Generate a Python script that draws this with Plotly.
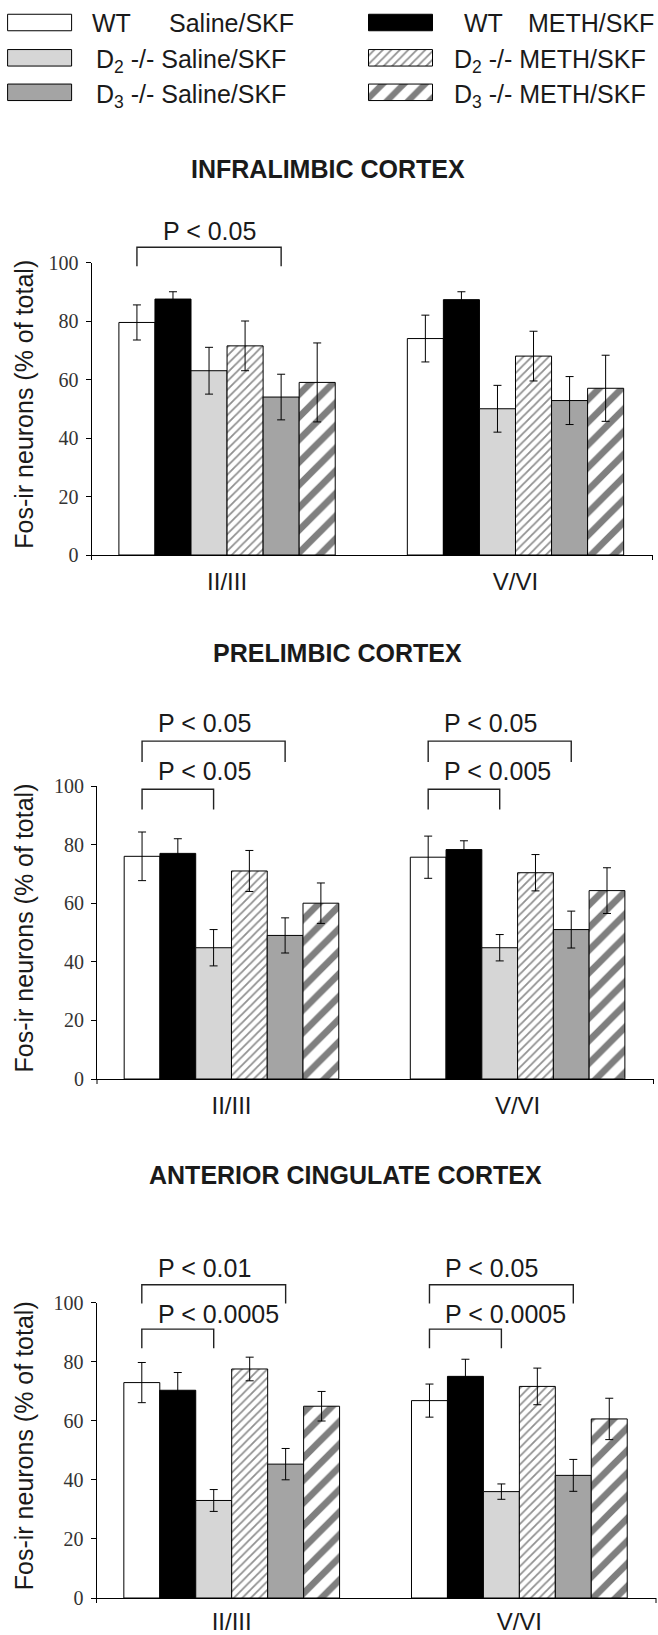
import plotly.graph_objects as go

W, H = 658, 1635

# ---------------- data ----------------
layers = ["II/III", "V/VI"]
series_labels = ["WT Saline/SKF", "WT METH/SKF",
                 "D<sub>2</sub> -/- Saline/SKF", "D<sub>2</sub> -/- METH/SKF",
                 "D<sub>3</sub> -/- Saline/SKF", "D<sub>3</sub> -/- METH/SKF"]

# Infralimbic cortex (values in series order)
il_23_mean = [79.5, 87.5, 63.0, 71.5, 54.0, 59.0]
il_23_sem = [6.0, 2.5, 8.0, 8.5, 7.8, 13.5]
il_56_mean = [74.0, 87.3, 50.0, 68.0, 52.8, 57.0]
il_56_sem = [8.0, 2.7, 8.0, 8.5, 8.2, 11.3]
# Prelimbic cortex
pl_23_mean = [76.0, 77.0, 44.8, 71.0, 49.0, 60.0]
pl_23_sem = [8.3, 5.0, 6.2, 7.0, 6.0, 6.9]
pl_56_mean = [75.7, 78.3, 44.8, 70.4, 51.0, 64.3]
pl_56_sem = [7.2, 3.0, 4.5, 6.2, 6.3, 7.8]
# Anterior cingulate cortex
ac_23_mean = [72.9, 70.3, 33.0, 77.5, 45.3, 64.9]
ac_23_sem = [6.8, 6.0, 3.7, 4.0, 5.3, 5.0]
ac_56_mean = [66.8, 75.0, 36.0, 71.6, 41.5, 60.6]
ac_56_sem = [5.6, 5.8, 2.6, 6.2, 5.4, 7.0]

yticks = [0, 20, 40, 60, 80, 100]

# significance brackets: (layer index, from series, to series, label, level)
il_sig = [(0, 0, 4, "P < 0.05", "hi")]
pl_sig = [(0, 0, 4, "P < 0.05", "hi"), (0, 0, 2, "P < 0.05", "lo"),
          (1, 0, 4, "P < 0.05", "hi"), (1, 0, 2, "P < 0.005", "lo")]
ac_sig = [(0, 0, 4, "P < 0.01", "hi"), (0, 0, 2, "P < 0.0005", "lo"),
          (1, 0, 4, "P < 0.05", "hi"), (1, 0, 2, "P < 0.0005", "lo")]

# ---------------- style ----------------
SANS = "Liberation Sans, Arial, sans-serif"
SERIF = "Liberation Serif, Times New Roman, serif"
INK = "#1a1a1a"
BARGAP = 0.25
XR = [-0.47, 1.475]

styles = [
    dict(color="white"),
    dict(color="black"),
    dict(color="#d6d6d6"),
    dict(color="white", pattern=dict(shape="/", fgcolor="#222222", bgcolor="white", size=6, solidity=0.3)),
    dict(color="#a4a4a4"),
    dict(color="white", pattern=dict(shape="/", fgcolor="black", bgcolor="white", size=16, solidity=0.42)),
]

panels = [
    dict(name="INFRALIMBIC CORTEX", data=[(il_23_mean, il_23_sem), (il_56_mean, il_56_sem)], sig=il_sig,
         px_x=(91.5, 652.5), px_y=(555.0, 262.5), title_px=(328, 169),
         levels={"hi": (105.2, 98.7, 110.8)}, txt_dx=24, standoff=5),
    dict(name="PRELIMBIC CORTEX", data=[(pl_23_mean, pl_23_sem), (pl_56_mean, pl_56_sem)], sig=pl_sig,
         px_x=(97.0, 653.5), px_y=(1079.0, 786.0), title_px=(337, 653),
         levels={"hi": (115.3, 108.2, 121.4), "lo": (98.9, 92.0, 105.0)}, txt_dx=14, standoff=5),
    dict(name="ANTERIOR CINGULATE CORTEX", data=[(ac_23_mean, ac_23_sem), (ac_56_mean, ac_56_sem)], sig=ac_sig,
         px_x=(96.5, 656.0), px_y=(1598.0, 1302.5), title_px=(345, 1175),
         levels={"hi": (106.0, 99.7, 111.7), "lo": (91.0, 84.5, 96.2)}, txt_dx=14, standoff=2),
]


def bar_center(layer_idx, s_idx):
    w = (1 - BARGAP) / 6
    return layer_idx - (1 - BARGAP) / 2 + (s_idx + 0.5) * w


fig = go.Figure()
shapes, annotations = [], []

for k, p in enumerate(panels):
    sfx = "" if k == 0 else str(k + 1)
    xa, ya = "x" + sfx, "y" + sfx
    y0px, y1px = p["px_y"]

    def ypap(v, y0px=y0px, y1px=y1px):
        return 1 - (y0px + (y1px - y0px) * v / 100.0) / H

    for s in range(6):
        st = styles[s]
        marker = dict(color=st["color"], line=dict(color="black", width=1))
        if "pattern" in st:
            marker["pattern"] = st["pattern"]
        fig.add_trace(go.Bar(
            x=[0, 1], y=[p["data"][0][0][s], p["data"][1][0][s]],
            error_y=dict(type="data", array=[p["data"][0][1][s], p["data"][1][1][s]],
                         color="black", thickness=1, width=4),
            marker=marker, xaxis=xa, yaxis=ya, showlegend=False, name=series_labels[s]))

    fig.layout["xaxis" + sfx] = dict(
        domain=[p["px_x"][0] / W, p["px_x"][1] / W], range=XR, anchor=ya,
        tickvals=[0, 1], ticktext=layers, ticks="", showline=True, linecolor="black", linewidth=1,
        showgrid=False, zeroline=False, tickfont=dict(family=SANS, size=24, color=INK),
        ticklabelstandoff=p["standoff"], fixedrange=True, automargin=False)
    fig.layout["yaxis" + sfx] = dict(
        domain=[1 - y0px / H, 1 - y1px / H], range=[0, 100], anchor=xa,
        tickvals=yticks, ticks="outside", ticklen=5, tickcolor="black", tickwidth=1,
        showline=True, linecolor="black", linewidth=1, showgrid=False, zeroline=False,
        tickfont=dict(family=SERIF, size=20, color="#333333"), ticklabelstandoff=3,
        fixedrange=True, automargin=False)

    # end ticks on x axis
    for xp in p["px_x"]:
        shapes.append(dict(type="line", xref="paper", yref="paper", x0=xp / W, x1=xp / W,
                           y0=1 - y0px / H, y1=1 - (y0px + 5) / H, line=dict(color="black", width=1)))

    # y-axis title
    annotations.append(dict(text="Fos-ir neurons (% of total)", textangle=-90, xref="paper", yref="paper",
                            x=24 / W, y=1 - ((y0px + y1px) / 2 - 4) / H, xanchor="center", yanchor="middle",
                            showarrow=False, font=dict(family=SANS, size=25, color=INK)))
    # panel title
    annotations.append(dict(text="<b>" + p["name"] + "</b>", xref="paper", yref="paper",
                            x=p["title_px"][0] / W, y=1 - p["title_px"][1] / H,
                            xanchor="center", yanchor="middle", showarrow=False,
                            font=dict(family=SANS, size=25, color=INK)))

    # significance brackets
    for (li, a, b, label, lev) in p["sig"]:
        yh, yl, yt = p["levels"][lev]
        xa0, xb0 = bar_center(li, a), bar_center(li, b)
        shapes.append(dict(type="path", xref=xa, yref="paper",
                           path="M %f,%f L %f,%f L %f,%f L %f,%f" % (xa0, ypap(yl), xa0, ypap(yh), xb0, ypap(yh), xb0, ypap(yl)),
                           line=dict(color="#222222", width=1.4)))
        annotations.append(dict(text=label, xref=xa, yref="paper", x=xa0, y=ypap(yt),
                                xanchor="left", yanchor="middle",
                                xshift=p["txt_dx"], showarrow=False,
                                font=dict(family=SANS, size=25, color=INK)))

# ---------------- legend (custom) ----------------
leg_rows = [22.5, 57.8, 92.3]
leg_cols = [7.6, 368.5]
SW_W, SW_H = 64.0, 16.5
for s in range(6):
    r, c = s // 2, s % 2
    st = styles[s]
    marker = dict(color=st["color"], line=dict(color="black", width=1))
    if "pattern" in st:
        pat = dict(st["pattern"])
        if s == 5:
            pat["size"] = 15
        marker["pattern"] = pat
    fig.add_trace(go.Bar(orientation="h", y=[leg_rows[r]], x=[SW_W], base=[leg_cols[c]],
                         width=[SW_H], offset=-SW_H / 2, marker=marker,
                         xaxis="x4", yaxis="y4", showlegend=False, hoverinfo="skip"))

fig.layout["xaxis4"] = dict(domain=[0, 1], range=[0, W], visible=False, fixedrange=True, anchor="y4")
fig.layout["yaxis4"] = dict(domain=[1 - 120 / H, 1], range=[120, 0], visible=False, fixedrange=True, anchor="x4")

leg_text_x = [(90, 167), (462, 526), (94, None), (452, None), (94, None), (452, None)]
leg_text_y = [22.5, 22.5, 58, 58, 92.5, 92.5]
for s in range(6):
    lab = series_labels[s]
    x1, x2 = leg_text_x[s]
    yc = leg_text_y[s]
    if lab.startswith("WT "):
        parts = [("WT", x1), (lab[3:], x2)]
        dy = 0
    else:
        parts = [(lab, x1)]
        dy = 3
    for txt, xp in parts:
        annotations.append(dict(text=txt, xref="paper", yref="paper", x=xp / W, y=1 - (yc + dy) / H,
                                xanchor="left", yanchor="middle", showarrow=False,
                                font=dict(family=SANS, size=25, color=INK)))

fig.update_layout(width=W, height=H, margin=dict(l=0, r=0, t=0, b=0, autoexpand=False),
                  paper_bgcolor="white", plot_bgcolor="white",
                  barmode="group", bargap=BARGAP, bargroupgap=0,
                  shapes=shapes, annotations=annotations, showlegend=False)

fig.write_html("out.html", config={"displayModeBar": False, "staticPlot": True},
               post_script="document.body.style.margin='0px';document.body.style.padding='0px';")
